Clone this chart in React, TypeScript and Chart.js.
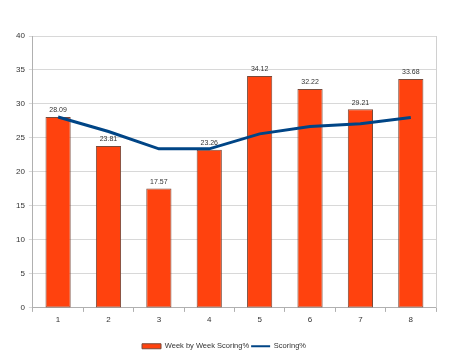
import React, { useEffect, useRef } from "react";
import { Chart, registerables } from "chart.js";

Chart.register(...registerables);

const categories = ["1", "2", "3", "4", "5", "6", "7", "8"];
const weeklyScoring = [28.09, 23.81, 17.57, 23.26, 34.12, 32.22, 29.21, 33.68];
const cumulativeScoring = [28.09, 25.95, 23.4, 23.4, 25.6, 26.7, 27.1, 28.0];
const barLabel = "Week by Week Scoring%";
const lineLabel = "Scoring%";

const FONT = "'Liberation Sans', Arial, sans-serif";

const valueLabels = {
  id: "valueLabels",
  afterDatasetsDraw(chart: any) {
    const ctx = chart.ctx;
    const meta = chart.getDatasetMeta(0);
    ctx.save();
    ctx.font = `7px ${FONT}`;
    ctx.fillStyle = "#333333";
    ctx.textAlign = "center";
    ctx.textBaseline = "bottom";
    meta.data.forEach((bar: any, i: number) => {
      ctx.fillText(weeklyScoring[i].toFixed(2), bar.x, bar.y - 3);
    });
    ctx.restore();
  },
};

const rightBorder = {
  id: "rightBorder",
  beforeDatasetsDraw(chart: any) {
    const { ctx, chartArea } = chart;
    ctx.save();
    ctx.strokeStyle = "#d0d0d0";
    ctx.lineWidth = 1;
    ctx.beginPath();
    ctx.moveTo(Math.round(chartArea.right) + 0.5, chartArea.top);
    ctx.lineTo(Math.round(chartArea.right) + 0.5, chartArea.bottom);
    ctx.stroke();
    ctx.restore();
  },
};

export default function App() {
  const ref = useRef<HTMLCanvasElement>(null);
  useEffect(() => {
    const chart = new Chart(ref.current!, {
      type: "bar",
      data: {
        labels: categories,
        datasets: [
          {
            type: "bar",
            label: barLabel,
            data: weeklyScoring,
            backgroundColor: "#ff420e",
            borderColor: "#7a4a3a",
            borderWidth: 1,
            borderSkipped: false,
            barPercentage: 0.5,
            categoryPercentage: 1,
            pointStyle: "rect",
            order: 2,
          } as any,
          {
            type: "line",
            label: lineLabel,
            data: cumulativeScoring,
            borderColor: "#004586",
            backgroundColor: "#004586",
            borderWidth: 3,
            pointRadius: 0,
            tension: 0,
            pointStyle: "line",
            order: 1,
          } as any,
        ],
      },
      options: {
        animation: false,
        responsive: false,
        maintainAspectRatio: false,
        layout: { padding: { top: 36, right: 19, left: 12, bottom: 0 } },
        plugins: {
          legend: {
            position: "bottom",
            labels: {
              usePointStyle: true,
              pointStyleWidth: 19,
              boxHeight: 5,
              padding: 2,
              color: "#333333",
              font: { family: FONT, size: 7.5 },
              sort: (a: any, b: any) => a.datasetIndex - b.datasetIndex,
              generateLabels: (chart: any) =>
                (Chart.defaults.plugins.legend.labels as any)
                  .generateLabels(chart)
                  .map((item: any) => (item.datasetIndex === 1 ? { ...item, lineWidth: 2 } : item)),
            },
          },
          tooltip: { enabled: false },
        },
        scales: {
          x: {
            offset: true,
            grid: {
              display: true,
              offset: true,
              drawOnChartArea: false,
              tickLength: 4,
              color: "#b0b0b0",
            },
            border: { color: "#b0b0b0" },
            ticks: { color: "#333333", font: { family: FONT, size: 8 }, padding: 3 },
            afterFit: (scale: any) => {
              scale.height += 13;
            },
          },
          y: {
            min: 0,
            max: 40,
            ticks: { stepSize: 5, color: "#333333", font: { family: FONT, size: 8 }, padding: 4 },
            grid: { color: "#d8d8d8", tickLength: 4 },
            border: { color: "#b0b0b0" },
          },
        },
      },
      plugins: [valueLabels, rightBorder],
    });
    return () => chart.destroy();
  }, []);
  return (
    <div style={{ position: "fixed", left: 0, top: 0, width: 455, height: 356, overflow: "hidden", background: "#fff" }}>
      <canvas ref={ref} width={455} height={360} style={{ display: "block" }} />
    </div>
  );
}
